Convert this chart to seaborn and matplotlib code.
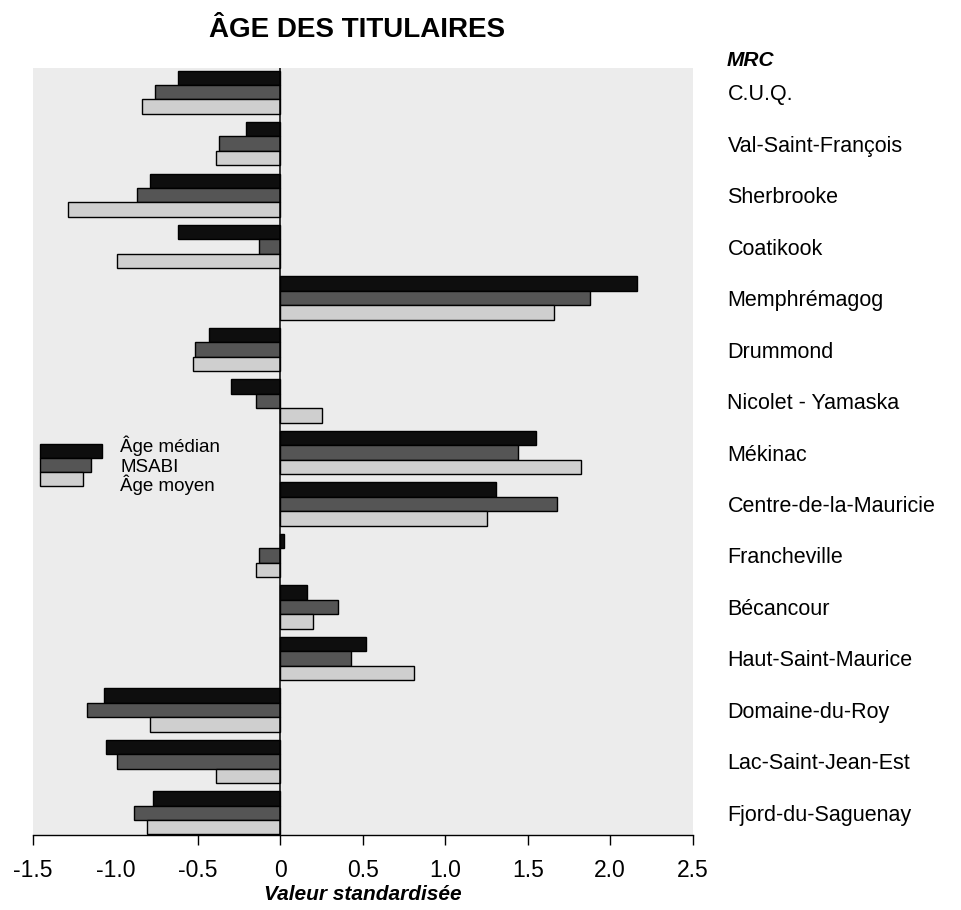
import pandas as pd
import seaborn as sns
import matplotlib.pyplot as plt
from matplotlib.patches import Rectangle

mrc = ['C.U.Q.', 'Val-Saint-François', 'Sherbrooke', 'Coatikook', 'Memphrémagog',
       'Drummond', 'Nicolet - Yamaska', 'Mékinac', 'Centre-de-la-Mauricie',
       'Francheville', 'Bécancour', 'Haut-Saint-Maurice', 'Domaine-du-Roy',
       'Lac-Saint-Jean-Est', 'Fjord-du-Saguenay']
series = ['Âge médian', 'MSABI', 'Âge moyen']
age_median = [-0.62, -0.21, -0.79, -0.62, 2.16, -0.43, -0.30, 1.55, 1.31, 0.02, 0.16, 0.52, -1.07, -1.06, -0.77]
msabi = [-0.76, -0.37, -0.87, -0.13, 1.88, -0.52, -0.15, 1.44, 1.68, -0.13, 0.35, 0.43, -1.17, -0.99, -0.89]
age_moyen = [-0.84, -0.39, -1.29, -0.99, 1.66, -0.53, 0.25, 1.82, 1.25, -0.15, 0.20, 0.81, -0.79, -0.39, -0.81]
xticks = [-1.5, -1.0, -0.5, 0, 0.5, 1.0, 1.5, 2.0, 2.5]
xtick_labels = ['-1.5', '-1.0', '-0.5', '0', '0.5', '1.0', '1.5', '2.0', '2.5']
colors = ['#0e0e0e', '#555555', '#cfcfcf']

df = pd.DataFrame({
    'mrc': mrc * 3,
    'serie': [s for s in series for _ in mrc],
    'valeur': age_median + msabi + age_moyen,
})

sns.set_theme(style='white')
plt.rcParams['font.family'] = ['Liberation Sans', 'DejaVu Sans']
plt.rcParams['text.color'] = 'black'
plt.rcParams['xtick.color'] = 'black'
plt.rcParams['ytick.color'] = 'black'
plt.rcParams['axes.labelcolor'] = 'black'

fig = plt.figure(figsize=(9.62, 9.10), dpi=100)
ax = fig.add_axes([33/962, 1-835/910, 659.7/962, 767/910])
ax.set_facecolor('#ececec')

sns.barplot(data=df, x='valeur', y='mrc', hue='serie', order=mrc, hue_order=series,
            orient='h', palette=colors, saturation=1, width=0.84,
            edgecolor='black', linewidth=1.0, legend=False, ax=ax)

ax.axvline(0, color='black', lw=1.1, zorder=5)
ax.set_xlim(-1.5, 2.5)
ax.set_ylim(14.43, -0.47)

for s in ['top', 'right', 'left']:
    ax.spines[s].set_visible(False)
ax.spines['bottom'].set_color('black')
ax.spines['bottom'].set_linewidth(1.0)

ax.set_xticks(xticks)
ax.set_xticklabels(xtick_labels)
ax.tick_params(axis='x', direction='out', length=7, width=1, color='black',
               pad=10.5, labelsize=16.5, bottom=True)
ax.xaxis.get_major_ticks()[1].tick1line.set_visible(False)

ax.yaxis.tick_right()
ax.tick_params(axis='y', length=0, pad=25, labelsize=15.5)
ax.set_ylabel('')
ax.set_xlabel('Valeur standardisée', fontsize=15, fontweight='bold', style='italic', labelpad=2)

# small legend drawn as stepped bars
leg_w = [0.094, 0.0773, 0.0652]
leg_y = [0.4915, 0.4733, 0.4550]
txt_y = [0.4993, 0.4733, 0.4485]
for c, w, y, t, ty in zip(colors, leg_w, leg_y, series, txt_y):
    ax.add_patch(Rectangle((0.0106, y), w, 0.0183, transform=ax.transAxes,
                           facecolor=c, edgecolor='black', lw=1.0, clip_on=False))
    ax.text(0.132, ty, t, transform=ax.transAxes, fontsize=13.5, va='baseline', ha='left')

fig.text(357/962, 1-30/910, 'ÂGE DES TITULAIRES', fontsize=20, fontweight='bold',
         ha='center', va='center')
fig.text(727/962, 1-61/910, 'MRC', fontsize=15, fontweight='bold', style='italic',
         ha='left', va='center')

fig.savefig('out.png', dpi=100)
